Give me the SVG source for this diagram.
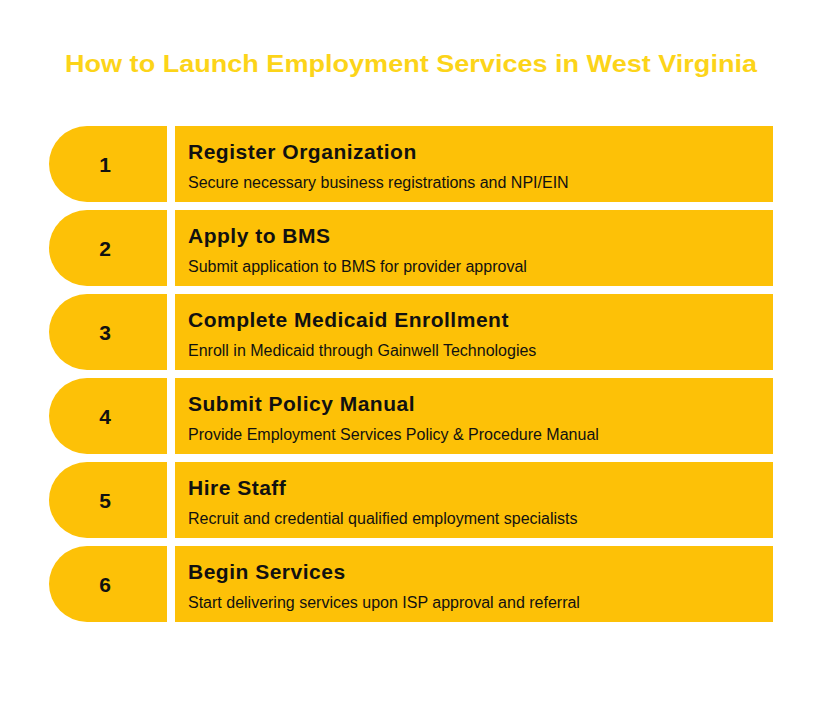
<svg xmlns="http://www.w3.org/2000/svg" width="822" height="724" viewBox="0 0 822 724">
<style>
.bg{fill:#ffffff}
.tab{fill:#FDC107}
.box{fill:#FDC107}
.title{font-family:"Liberation Sans",Arial,sans-serif;font-weight:bold;font-size:24px;fill:#FCD419}
.num{font-family:"Liberation Sans",Arial,sans-serif;font-weight:bold;font-size:21px;fill:#111;text-anchor:middle}
.head{font-family:"Liberation Sans",Arial,sans-serif;font-weight:bold;font-size:21px;letter-spacing:0.5px;fill:#111}
.desc{font-family:"Liberation Sans",Arial,sans-serif;font-size:16px;fill:#111}
</style>
<rect class="bg" x="0" y="0" width="822" height="724"/>
<text class="title" x="411" y="72" text-anchor="middle" textLength="692" lengthAdjust="spacingAndGlyphs">How to Launch Employment Services in West Virginia</text>
<g id="connectors"></g>
<g id="step1">
<path class="tab" d="M167,126 H87 A38,38 0 0 0 87,202 H167 Z"/>
<rect class="box" x="175" y="126" width="598" height="76"/>
<text class="num" x="105" y="172">1</text>
<text class="head" x="188" y="159">Register Organization</text>
<text class="desc" x="188" y="188">Secure necessary business registrations and NPI/EIN</text>
</g>
<g id="step2">
<path class="tab" d="M167,210 H87 A38,38 0 0 0 87,286 H167 Z"/>
<rect class="box" x="175" y="210" width="598" height="76"/>
<text class="num" x="105" y="256">2</text>
<text class="head" x="188" y="243">Apply to BMS</text>
<text class="desc" x="188" y="272">Submit application to BMS for provider approval</text>
</g>
<g id="step3">
<path class="tab" d="M167,294 H87 A38,38 0 0 0 87,370 H167 Z"/>
<rect class="box" x="175" y="294" width="598" height="76"/>
<text class="num" x="105" y="340">3</text>
<text class="head" x="188" y="327">Complete Medicaid Enrollment</text>
<text class="desc" x="188" y="356">Enroll in Medicaid through Gainwell Technologies</text>
</g>
<g id="step4">
<path class="tab" d="M167,378 H87 A38,38 0 0 0 87,454 H167 Z"/>
<rect class="box" x="175" y="378" width="598" height="76"/>
<text class="num" x="105" y="424">4</text>
<text class="head" x="188" y="411">Submit Policy Manual</text>
<text class="desc" x="188" y="440">Provide Employment Services Policy &amp; Procedure Manual</text>
</g>
<g id="step5">
<path class="tab" d="M167,462 H87 A38,38 0 0 0 87,538 H167 Z"/>
<rect class="box" x="175" y="462" width="598" height="76"/>
<text class="num" x="105" y="508">5</text>
<text class="head" x="188" y="495">Hire Staff</text>
<text class="desc" x="188" y="524">Recruit and credential qualified employment specialists</text>
</g>
<g id="step6">
<path class="tab" d="M167,546 H87 A38,38 0 0 0 87,622 H167 Z"/>
<rect class="box" x="175" y="546" width="598" height="76"/>
<text class="num" x="105" y="592">6</text>
<text class="head" x="188" y="579">Begin Services</text>
<text class="desc" x="188" y="608">Start delivering services upon ISP approval and referral</text>
</g>
</svg>
